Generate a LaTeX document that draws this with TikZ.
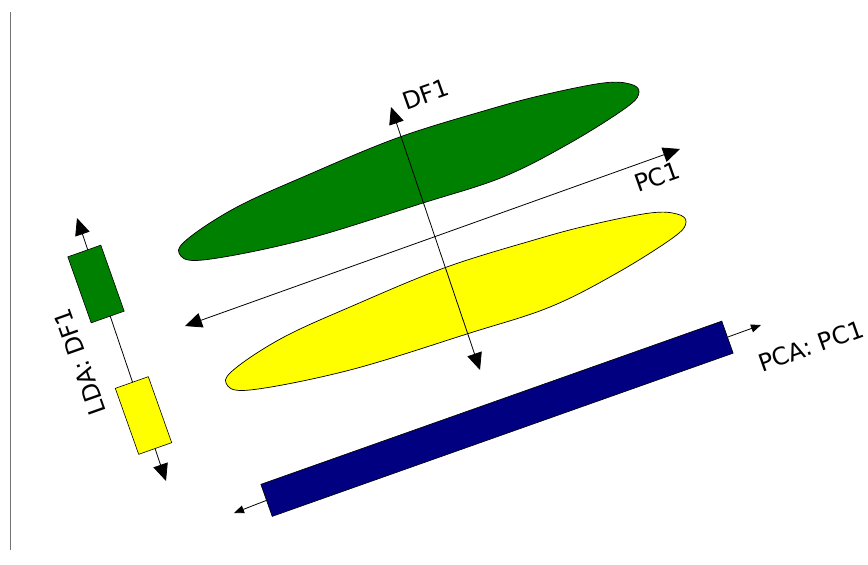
\documentclass[tikz,border=0pt]{standalone}
\usepackage{fontspec}
\setmainfont{DejaVu Sans}
\usetikzlibrary{arrows.meta, positioning, calc}

\definecolor{clustergreen}{HTML}{008000}
\definecolor{clusteryellow}{HTML}{FFFF00}
\definecolor{projnavy}{HTML}{000080}

\tikzset{
    axisline/.style={
        line width=0.8pt,
        {Triangle[length=17pt,width=15pt]}-{Triangle[length=17pt,width=15pt]}
    },
    projarrow/.style={
        line width=0.8pt,
        -{Triangle[length=10pt,width=8pt]}
    },
    axislabel/.style={
        font=\fontsize{24}{28}\selectfont,
        inner sep=0pt
    },
    ldabox/.style={
        rectangle,
        draw=black,
        line width=0.6pt,
        minimum width=35pt,
        minimum height=70pt,
        inner sep=0pt,
        rotate=19.5
    },
    cluster/.pic={
        \draw[pic actions, line width=0.7pt]
            plot[smooth cycle, tension=0.6] coordinates {
                (-230,81) (-206,88) (-106,68) (14,31) (94,5) (161,-29)
                (218,-65) (230,-80) (221,-88) (194,-89) (134,-77) (78,-62)
                (-12,-34) (-106,5) (-172,35) (-219,65)
            };
    }
}

\begin{document}
\begin{tikzpicture}[x=1pt, y=-1pt]
    \useasboundingbox (0,0) rectangle (868,565);

    \draw[black!55, line width=1pt] (10,12) -- (10,550);

    \pic[fill=clustergreen] at (409,172) {cluster};
    \pic[fill=clusteryellow] at (456,302) {cluster};

    \coordinate (pcleft) at (185,326);
    \coordinate (pcright) at (680,149);
    \coordinate (dftop) at (391,107);
    \coordinate (dfbottom) at (480,370);
    \draw[axisline] (pcleft) -- (pcright);
    \draw[axisline] (dftop) -- (dfbottom);
    \node[axislabel, rotate=19.5] (pclabel) at (657,177) {PC1};
    \node[axislabel, rotate=19.5] (dflabel) at (426,94) {DF1};

    \node[
        rectangle,
        draw=black,
        line width=0.6pt,
        fill=projnavy,
        minimum width=489pt,
        minimum height=34pt,
        inner sep=0pt,
        rotate=19.5
    ] (pcabar) at (497,418.75) {};
    \coordinate (pcatipleft) at (234,513);
    \coordinate (pcatipright) at (761,325);
    \draw[projarrow] (pcabar.west) -- (pcatipleft);
    \draw[projarrow] (pcabar.east) -- (pcatipright);
    \node[axislabel, rotate=19.5] (pcalabel) at (811,346) {PCA: PC1};

    \coordinate (ldatop) at (77,218);
    \coordinate (ldabottom) at (166,481);
    \draw[axisline] (ldatop) -- (ldabottom);
    \node[ldabox, fill=clustergreen] (ldagreen) at (96,284) {};
    \node[ldabox, fill=clusteryellow] (ldayellow) at (143.5,415.5) {};
    \node[axislabel, rotate=109.5] (ldalabel) at (80,362) {LDA: DF1};
\end{tikzpicture}
\end{document}
